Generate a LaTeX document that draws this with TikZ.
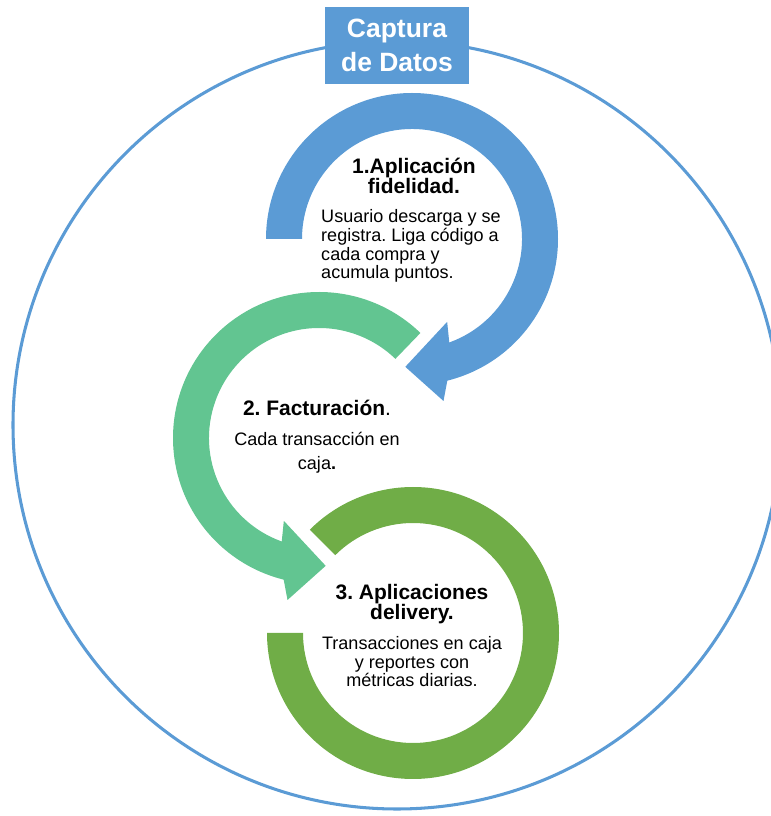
\documentclass[tikz,border=0pt]{standalone}
\usepackage{fontspec}
\setmainfont{Liberation Sans}
\frenchspacing
\definecolor{capblue}{HTML}{5B9BD5}
\definecolor{facgreen}{HTML}{62C591}
\definecolor{delgreen}{HTML}{70AD47}

\begin{document}
\begin{tikzpicture}[x=0.3mm, y=0.3mm,
  box/.style={fill=capblue, text=white, font=\fontsize{22.6}{29}\selectfont\bfseries, align=center, minimum width=43.2mm, minimum height=23.1mm, inner sep=0pt},
  head/.style={font=\fontsize{17.9}{17.9}\selectfont\bfseries, align=center, inner sep=0pt},
  txt/.style={font=\fontsize{15.4}{16.2}\selectfont, align=center, inner sep=0pt}]
  \useasboundingbox (0,0) rectangle (771,816);

  % big circle round everything
  \draw[capblue, line width=2.6pt] (397,391) circle[radius=384];
  \node[box] (title) at (397,770.5) {Captura\\de Datos};

  % 1: blue arrow, clockwise
  \begin{scope}[shift={(412,577)}]
    \fill[capblue] (180:146) arc[start angle=180, end angle=-76, radius=146]
      -- (-79:165) -- (-93:128) -- (-67:90) -- (-70.2:110)
      arc[start angle=-70.2, end angle=180, radius=110] -- cycle;
  \end{scope}
  % 2: light green arrow, counter clockwise
  \begin{scope}[shift={(319,378)}]
    \fill[facgreen] (46:146) arc[start angle=46, end angle=256, radius=146]
      -- (259:165) -- (273:128) -- (247:90) -- (250.2:110)
      arc[start angle=250.2, end angle=46, radius=110] -- cycle;
  \end{scope}
  % 3: dark green ring
  \begin{scope}[shift={(413,183)}]
    \fill[delgreen] (135:146) arc[start angle=135, end angle=-180, radius=146]
      -- (180:110) arc[start angle=-180, end angle=135, radius=110] -- cycle;
  \end{scope}

  % texts, placed on the baseline of their last line
  \node[head, anchor=base] (h1) at (414,622) {1.Aplicación\\fidelidad.};
  \node[txt, align=left, anchor=base west] (t1) at (321,537) {Usuario descarga y se\\registra. Liga código a\\cada compra y\\acumula puntos.};

  \node[head, anchor=base] (h2) at (317,400) {2. Facturación{\mdseries.}};
  \node[txt, anchor=base, font=\fontsize{15.4}{21.3}\selectfont] (t2) at (317,346) {Cada transacción en\\caja\textbf{.}};

  \node[head, anchor=base] (h3) at (412,196) {3. Aplicaciones\\delivery.};
  \node[txt, anchor=base] (t3) at (412,129) {Transacciones en caja\\y reportes con\\métricas diarias.};
\end{tikzpicture}
\end{document}
